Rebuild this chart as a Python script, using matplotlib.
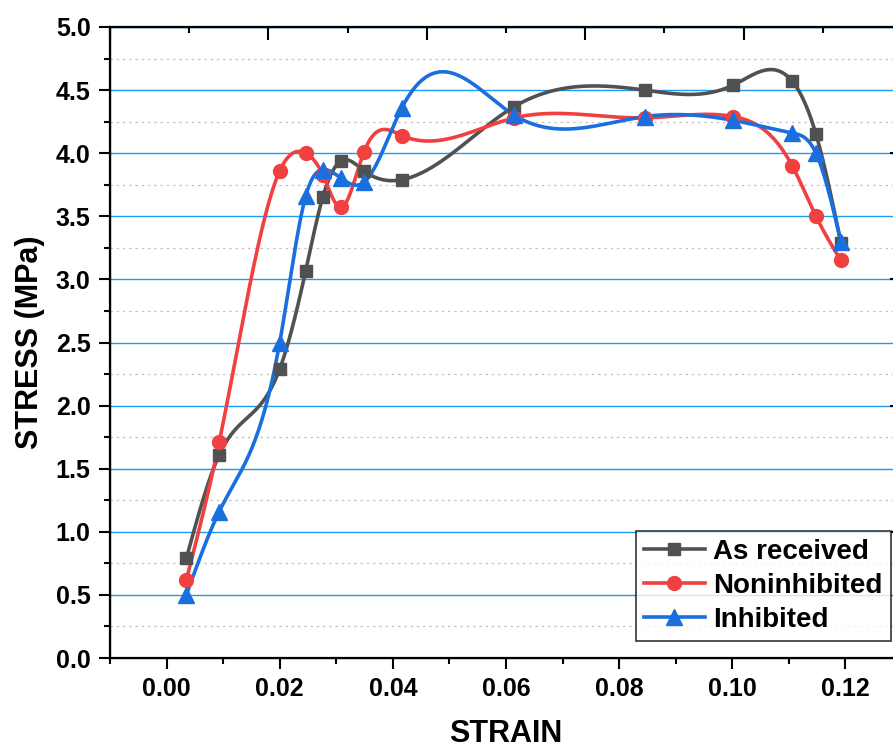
import numpy as np
import matplotlib
matplotlib.use("Agg")
import matplotlib.pyplot as plt
from matplotlib.lines import Line2D
from matplotlib.ticker import MultipleLocator

plt.rcParams['font.family'] = ['Liberation Sans', 'DejaVu Sans']
plt.rcParams['font.weight'] = 'bold'

# strain values (shared by the three series)
strain = [0.0035, 0.0093, 0.0200, 0.0246, 0.0276, 0.0309, 0.0349, 0.0416,
          0.0615, 0.0845, 0.1002, 0.1106, 0.1148, 0.1192]

as_received = [0.79, 1.61, 2.29, 3.07, 3.65, 3.94, 3.86, 3.79,
               4.37, 4.50, 4.54, 4.57, 4.15, 3.29]
noninhibited = [0.62, 1.71, 3.86, 4.00, 3.83, 3.57, 4.01, 4.14,
                4.28, 4.28, 4.29, 3.90, 3.50, 3.15]
inhibited = [0.50, 1.16, 2.50, 3.66, 3.87, 3.80, 3.77, 4.36,
             4.30, 4.29, 4.26, 4.16, 4.00, 3.30]

labels = ['As received', 'Noninhibited', 'Inhibited']
colors = ['#515151', '#F14040', '#1A6FDF']
markers = ['s', 'o', '^']
msizes = [9, 10, 11]


def natural_spline(x, y, num=400):
    # cubic spline connector, like Origin's "Spline" line style
    x = np.asarray(x, float)
    y = np.asarray(y, float)
    n = len(x)
    h = np.diff(x)
    A = np.zeros((n, n))
    r = np.zeros(n)
    A[0, 0] = A[-1, -1] = 1
    for i in range(1, n - 1):
        A[i, i - 1] = h[i - 1]
        A[i, i] = 2 * (h[i - 1] + h[i])
        A[i, i + 1] = h[i]
        r[i] = 6 * ((y[i + 1] - y[i]) / h[i] - (y[i] - y[i - 1]) / h[i - 1])
    M = np.linalg.solve(A, r)
    xs = np.linspace(x[0], x[-1], num)
    idx = np.clip(np.searchsorted(x, xs) - 1, 0, n - 2)
    x0, x1 = x[idx], x[idx + 1]
    hh = x1 - x0
    t0, t1 = x1 - xs, xs - x0
    ys = (M[idx] * t0 ** 3 / (6 * hh) + M[idx + 1] * t1 ** 3 / (6 * hh)
          + (y[idx] / hh - M[idx] * hh / 6) * t0
          + (y[idx + 1] / hh - M[idx + 1] * hh / 6) * t1)
    return xs, ys


fig = plt.figure(figsize=(8.93, 7.53), dpi=100)
ax = fig.add_axes([110 / 893, 1 - 658 / 753, 792 / 893, 631 / 753])

series = [as_received, noninhibited, inhibited]
for vals, c, m, ms in zip(series, colors, markers, msizes):
    xs, ys = natural_spline(strain, vals)
    ax.plot(xs, ys, color=c, lw=2.6, zorder=3)
    ax.plot(strain, vals, ls='none', marker=m, ms=ms, color=c, zorder=4)

ax.set_xlim(-0.01, 0.13)
ax.set_ylim(0, 5)
ax.xaxis.set_major_locator(MultipleLocator(0.02))
ax.xaxis.set_minor_locator(MultipleLocator(0.01))
ax.yaxis.set_major_locator(MultipleLocator(0.5))
ax.yaxis.set_minor_locator(MultipleLocator(0.25))
ax.xaxis.set_major_formatter(matplotlib.ticker.FormatStrFormatter('%.2f'))
ax.yaxis.set_major_formatter(matplotlib.ticker.FormatStrFormatter('%.1f'))

ax.yaxis.grid(True, which='major', color='#1E9BF0', lw=1.0)
ax.yaxis.grid(True, which='minor', color='#C4C4C4', lw=0.9, ls=(0, (2, 3)))
ax.set_axisbelow(True)

ax.tick_params(which='both', direction='out', width=1.5, labelsize=18,
               top=False, right=False, pad=6)
ax.tick_params(which='major', length=8)
ax.tick_params(which='minor', length=4.5)
for lab in ax.get_xticklabels() + ax.get_yticklabels():
    lab.set_fontweight('bold')
for s in ax.spines.values():
    s.set_linewidth(1.6)

ax.set_xlabel('STRAIN', fontsize=22, fontweight='bold', labelpad=13)
ax.set_ylabel('STRESS (MPa)', fontsize=22, fontweight='bold', labelpad=8)

# mirrored top / right axes, ticks only
top = ax.twiny()
top.set_xlim(0, 5)
top.xaxis.set_major_locator(MultipleLocator(1))
top.xaxis.set_minor_locator(MultipleLocator(0.5))
top.tick_params(which='both', direction='in', width=1.5, labeltop=False)
top.tick_params(which='major', length=9)
top.tick_params(which='minor', length=4.5)

right = ax.twinx()
right.set_ylim(0, 5)
right.yaxis.set_major_locator(MultipleLocator(1))
right.yaxis.set_minor_locator(plt.NullLocator())
right.tick_params(which='both', direction='in', width=1.5, length=9,
                  labelright=False)

handles = [Line2D([], [], color=c, marker=m, ms=ms, lw=2.6)
           for c, m, ms in zip(colors, markers, msizes)]
leg = right.legend(handles, labels, loc='lower right',
                   bbox_to_anchor=(891 / 893, 1 - 641 / 753),
                   bbox_transform=fig.transFigure,
                   prop={'size': 20, 'weight': 'bold'},
                   frameon=True, fancybox=False, edgecolor='black',
                   handlelength=2.2, handletextpad=0.3, labelspacing=0.28,
                   borderpad=0.3, borderaxespad=0)
leg.get_frame().set_linewidth(1.2)

fig.savefig('out.png', dpi=100)
